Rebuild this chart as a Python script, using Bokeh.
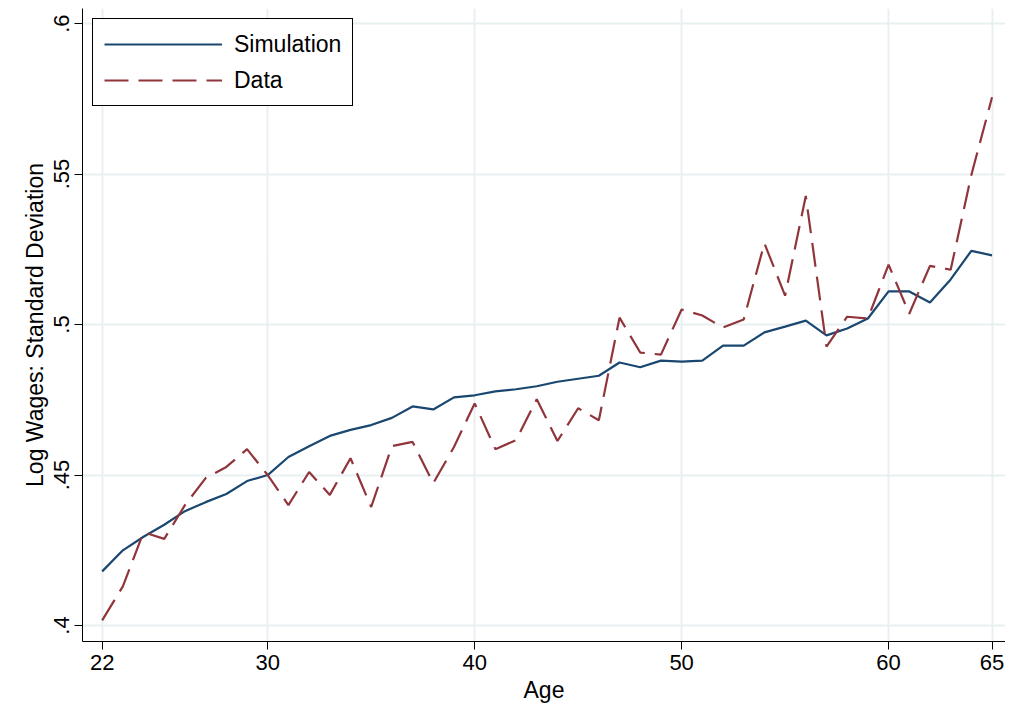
from bokeh.plotting import figure
from bokeh.models import Range1d, FixedTicker, Legend, LegendItem
from bokeh.embed import file_html
from bokeh.resources import INLINE

age = list(range(22, 66))
simulation = [.418, .425, .4295, .4335, .438, .441, .4437, .448, .450, .456,
              .4596, .463, .465, .4666, .469, .4728, .4718, .4758, .4765, .4778,
              .4785, .4795, .481, .482, .483, .4874, .4858, .488, .4877, .488,
              .493, .493, .4974, .4993, .5013, .4964, .4987, .502, .511, .511,
              .5073, .515, .5245, .523]
data = [.4017, .413, .431, .4288, .440, .449, .4527, .4586, .450, .440,
        .451, .4434, .4556, .4394, .4596, .461, .4473, .4593, .4738, .4586,
        .4616, .4752, .4613, .4722, .4682, .5023, .4907, .490, .505, .503,
        .499, .5017, .527, .5096, .5427, .4927, .5026, .502, .5199, .5036,
        .5195, .5182, .5497, .5755]
x_ticks = [22, 30, 40, 50, 60, 65]
y_ticks = [0.4, 0.45, 0.5, 0.55, 0.6]
y_labels = {0.4: ".4", 0.45: ".45", 0.5: ".5", 0.55: ".55", 0.6: ".6"}

p = figure(width=1005, height=705, output_backend="svg", toolbar_location=None,
           x_range=Range1d(21.05, 65.65), y_range=Range1d(0.3947, 0.605),
           min_border_left=82, min_border_right=0, min_border_top=8, min_border_bottom=62)
p.outline_line_color = None
p.background_fill_color = "white"

p.xaxis.ticker = FixedTicker(ticks=x_ticks)
p.yaxis.ticker = FixedTicker(ticks=y_ticks)
p.yaxis.major_label_overrides = y_labels
p.yaxis.major_label_orientation = "vertical"
p.xaxis.axis_label = "Age"
p.yaxis.axis_label = "Log Wages: Standard Deviation"
for ax in (p.xaxis, p.yaxis):
    ax.minor_tick_line_color = None
    ax.major_label_text_font = "Liberation Sans"
    ax.major_label_text_font_size = "22px"
    ax.axis_label_text_font = "Liberation Sans"
    ax.axis_label_text_font_size = "23px"
    ax.axis_label_text_font_style = "normal"
    ax.major_label_text_color = "black"
    ax.axis_label_text_color = "black"
    ax.axis_line_color = "black"
    ax.major_tick_line_color = "black"
    ax.major_tick_out = 8
    ax.major_tick_in = 0
    ax.axis_label_standoff = 4
p.grid.grid_line_color = "#e8f0f2"
p.grid.grid_line_width = 2
p.xgrid.ticker = FixedTicker(ticks=x_ticks)

sim = p.line(age, simulation, line_color="#1a476f", line_width=2.2)
dat = p.line(age, data, line_color="#90353b", line_width=2.2, line_dash="24 10")

legend = Legend(items=[LegendItem(label="Simulation", renderers=[sim]),
                       LegendItem(label="Data", renderers=[dat])],
                location="top_left", border_line_color="black", border_line_alpha=1.0,
                border_line_width=1.2, background_fill_alpha=1.0,
                label_text_font="Liberation Sans", label_text_font_size="23px",
                label_text_color="black",
                glyph_width=118, glyph_height=28, label_standoff=12, padding=11,
                spacing=8, margin=10)
p.add_layout(legend)

open("out.html", "w").write(file_html(p, INLINE))
